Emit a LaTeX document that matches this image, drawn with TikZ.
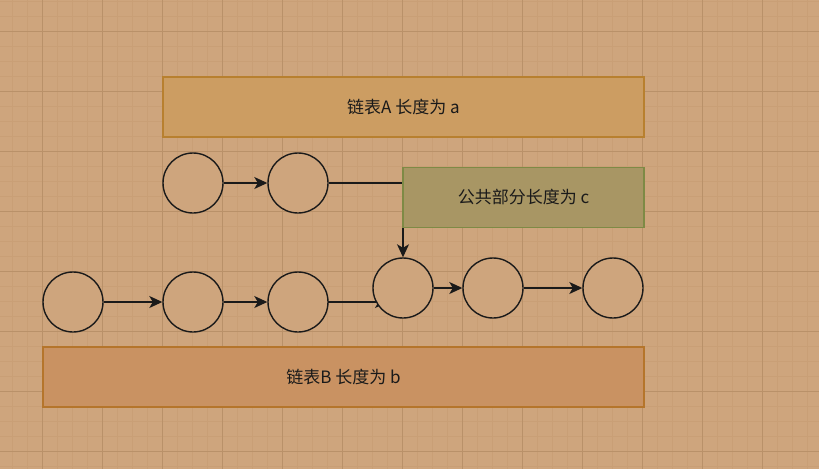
\documentclass[tikz,border=0pt]{standalone}
\usepackage{fontspec}
\setmainfont{Noto Sans CJK SC}
\usetikzlibrary{arrows.meta}
\definecolor{bg}{HTML}{CEA57D}
\definecolor{gminor}{HTML}{C99F76}
\definecolor{gmajor}{HTML}{B99169}
\definecolor{afill}{HTML}{CC9D62}
\definecolor{adraw}{HTML}{B8802F}
\definecolor{bfill}{HTML}{C99262}
\definecolor{bdraw}{HTML}{B5752B}
\definecolor{cfill}{HTML}{A89664}
\definecolor{cdraw}{HTML}{7E8A45}
\definecolor{ink}{HTML}{1A1A1A}
\tikzset{
  x=1pt, y=-1pt,
  nodecircle/.style={circle, draw=ink, line width=1.4pt, fill=bg, minimum size=60pt, inner sep=0pt},
  labelbox/.style={rectangle, line width=1.4pt, inner sep=0pt, font=\fontsize{17}{20}\selectfont, text=ink},
  link/.style={draw=ink, line width=1.4pt, -{Stealth[length=13pt,width=12pt,inset=3.5pt]}},
}
\begin{document}
\begin{tikzpicture}
\fill[bg] (0,0) rectangle (819,469);
\useasboundingbox (0,0) rectangle (819,469);
% minor grid
\foreach \x in {12,27,...,819} \draw[gminor, line width=0.7pt] (\x,0) -- (\x,469);
\foreach \y in {1,16,...,469} \draw[gminor, line width=0.7pt] (0,\y) -- (819,\y);
% major grid
\foreach \x in {42,102,...,819} \draw[gmajor, line width=0.8pt] (\x,0) -- (\x,469);
\foreach \y in {31,91,...,469} \draw[gmajor, line width=0.8pt] (0,\y) -- (819,\y);

% boxes
\node[labelbox, draw=adraw, fill=afill, minimum width=481pt, minimum height=60pt] (boxA) at (403.5,107) {链表A 长度为 a};
\node[labelbox, draw=bdraw, fill=bfill, minimum width=601pt, minimum height=60pt] (boxB) at (343.5,377) {链表B 长度为 b};

% coordinates for circles
\coordinate (pa1) at (193,183);
\coordinate (pa2) at (298,183);
\coordinate (pb1) at (73,302);
\coordinate (pb2) at (193,302);
\coordinate (pb3) at (298,302);
\coordinate (pc1) at (403,288);
\coordinate (pc2) at (493,288);
\coordinate (pc3) at (613,288);
\coordinate (corner) at (403,183);
\coordinate (b3end) at (388,302);

% connector hidden partly under circle c1
\draw[link] ([xshift=30pt]pb3) -- (b3end);

% circles
\foreach \n in {a1,a2,b1,b2,b3,c1,c2,c3} \node[nodecircle] (\n) at (p\n) {};

% connectors
\draw[link] (a1.east) -- (a2.west);
\draw[link] (b1.east) -- (b2.west);
\draw[link] (b2.east) -- (b3.west);
\draw[link] (c1.east) -- (c2.west);
\draw[link] (c2.east) -- (c3.west);
\draw[link] (a2.east) -- (corner) -- (c1.north);

% common box
\node[labelbox, draw=cdraw, fill=cfill, minimum width=241pt, minimum height=60pt] (boxC) at (523.5,197.5) {公共部分长度为 c};
\end{tikzpicture}
\end{document}
